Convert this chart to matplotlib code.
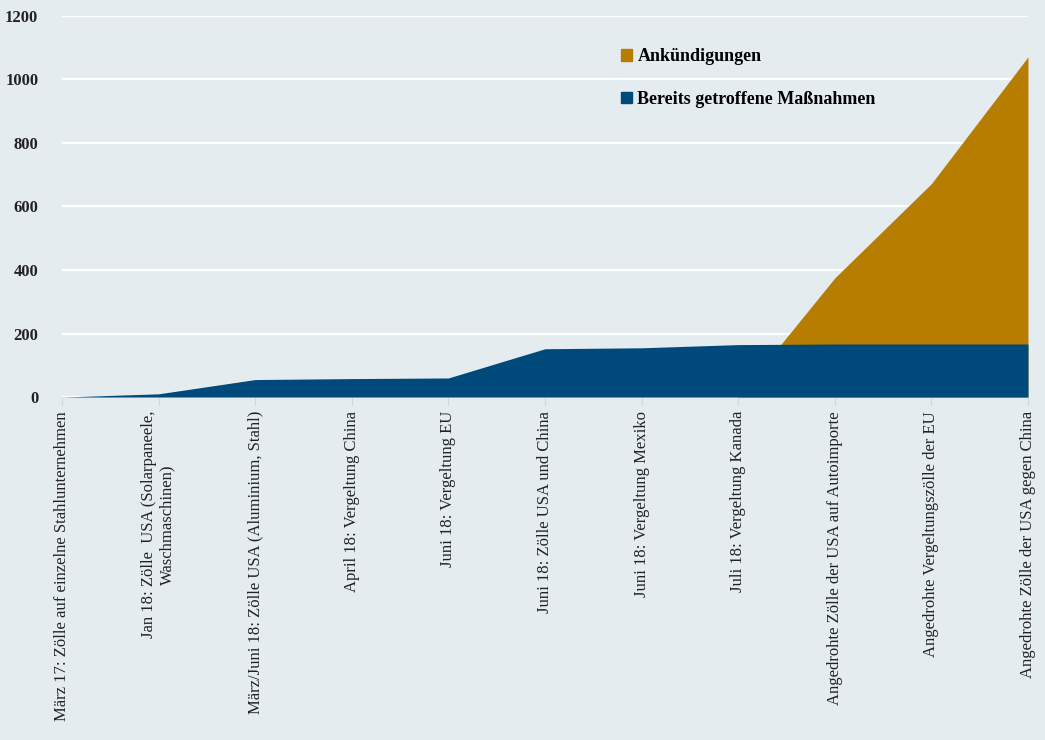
#Packages

import numpy as np
from matplotlib import pyplot as plt
from matplotlib.patches import Patch


#Data

categories = [
    "März 17: Zölle auf einzelne Stahlunternehmen",
    "Jan 18: Zölle  USA (Solarpaneele,\nWaschmaschinen)",
    "März/Juni 18: Zölle USA (Aluminium, Stahl)",
    "April 18: Vergeltung China",
    "Juni 18: Vergeltung EU",
    "Juni 18: Zölle USA und China",
    "Juni 18: Vergeltung Mexiko",
    "Juli 18: Vergeltung Kanada",
    "Angedrohte Zölle der USA auf Autoimporte",
    "Angedrohte Vergeltungszölle der EU",
    "Angedrohte Zölle der USA gegen China",
]
massnahmen = [0, 10, 55, 58, 60, 152, 155, 165, 167, 167, 167]
ankuendigungen = [0, 0, 0, 0, 0, 0, 0, 0, 375, 672, 1071]
yticks = [0, 200, 400, 600, 800, 1000, 1200]

bg = "#e4ecf0"
blue = "#004a7b"
gold = "#b67d00"

#Plot

fig = plt.figure(figsize=(10.45, 7.4), dpi=100, facecolor=bg)
ax = fig.add_axes([0.0593, 0.4635, 0.9244, 0.5149], facecolor=bg)

x = np.arange(len(categories))
ax.fill_between(x, ankuendigungen, color=gold, lw=0, zorder=2)
ax.fill_between(x, massnahmen, color=blue, lw=0, zorder=3)

ax.set_xlim(0, len(categories) - 1)
ax.set_ylim(0, 1200)
ax.set_yticks(yticks)
ax.set_yticklabels([str(v) for v in yticks], fontfamily="Liberation Serif",
                   fontweight="bold", fontsize=12, color="#222222")
ax.set_xticks(x)
ax.set_xticklabels(categories, rotation=90, ha="center", va="top",
                   multialignment="center", fontfamily="Liberation Serif",
                   fontsize=12, color="#222222")

ax.grid(axis="y", color="white", lw=1.6, zorder=1)
ax.set_axisbelow(True)
for s in ax.spines.values():
    s.set_visible(False)
ax.tick_params(axis="y", length=0, pad=17)
ax.tick_params(axis="x", length=6, color="#cdd7dd", pad=4)

handles = [Patch(color=gold), Patch(color=blue)]
labels = ["Ankündigungen", "Bereits getroffene Maßnahmen"]
leg = ax.legend(handles, labels, loc="upper left", bbox_to_anchor=(0.562, 0.958),
                frameon=False, handlelength=0.6, handleheight=0.6,
                handletextpad=0.3, labelspacing=1.43,
                prop={"family": "Liberation Serif", "weight": "bold", "size": 13})

fig.savefig("out.png", dpi=100, facecolor=bg)
